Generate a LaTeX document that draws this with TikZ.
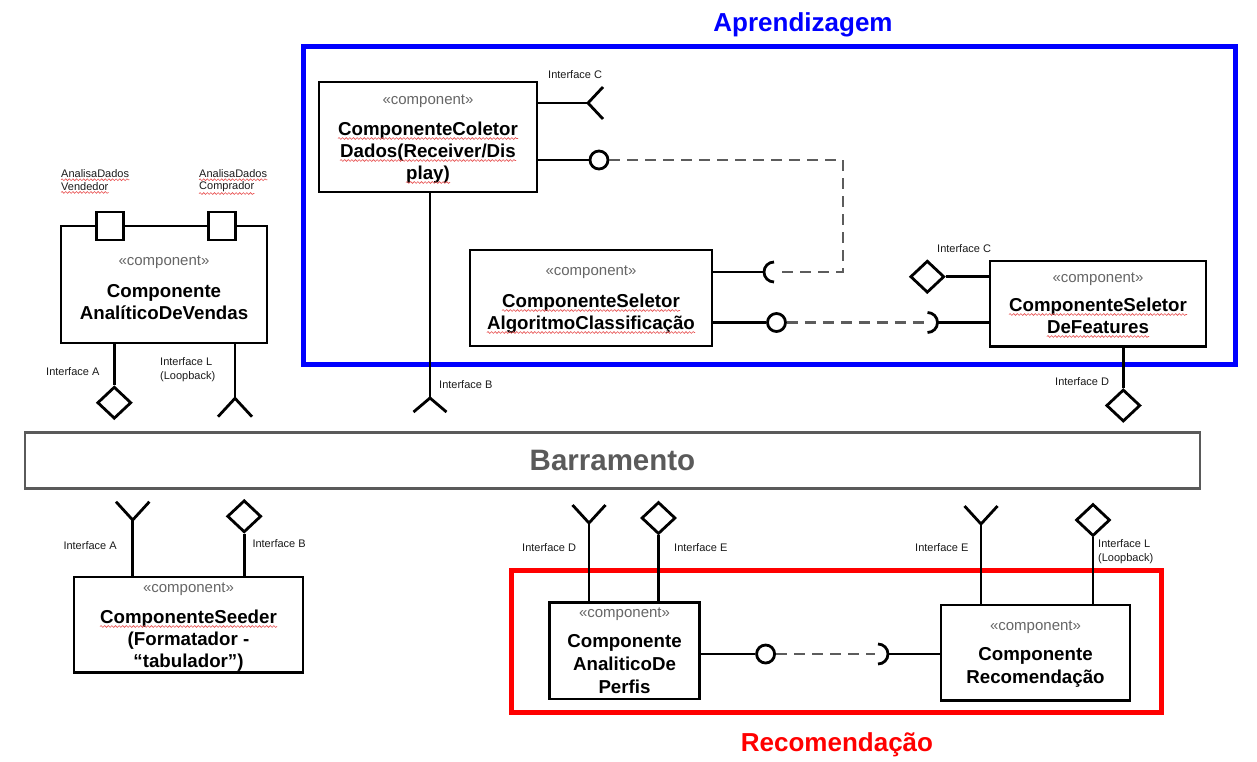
\documentclass[tikz,border=0pt]{standalone}
\usepackage{fontspec}
\setmainfont{Liberation Sans}
\usetikzlibrary{shapes.geometric,decorations.pathmorphing}
\definecolor{stgray}{HTML}{666666}
\definecolor{dashgray}{HTML}{5C5C5C}
\definecolor{busgray}{HTML}{5A5A5A}
\definecolor{lblblack}{HTML}{1A1A1A}
\definecolor{frameblue}{HTML}{0000FF}
\definecolor{framered}{HTML}{FF0000}
\definecolor{squigred}{HTML}{E85050}
\begin{document}
\begin{tikzpicture}[x=1pt,y=-1pt,
  comp/.style={draw=black, line width=2.8pt, fill=white, inner sep=0pt, rectangle},
  portbox/.style={draw=black, line width=2.8pt, fill=white, inner sep=0pt, rectangle, minimum width=27pt, minimum height=28pt},
  conn/.style={draw=black, line width=2.8pt},
  dashconn/.style={draw=dashgray, line width=2.8pt, dash pattern=on 11pt off 7pt},
  diam/.style={draw=black, line width=2.8pt, fill=white, diamond, inner sep=0pt, minimum width=34pt, minimum height=32pt},
  lolly/.style={draw=black, line width=2.8pt, fill=white, circle, inner sep=0pt, minimum size=18pt},
  stereo/.style={font=\fontsize{15}{18}\selectfont, text=stgray, inner sep=0pt},
  ctitle/.style={font=\bfseries\fontsize{18.7}{22}\selectfont, text=black, inner sep=0pt, anchor=base},
  lbl/.style={font=\fontsize{11}{13}\selectfont, text=lblblack, inner sep=0pt, anchor=west},
  squig/.style={draw=squigred, line width=0.6pt, decorate, decoration={snake, amplitude=0.9pt, segment length=3.6pt}},
  frame/.style={line width=5pt},
  bigtitle/.style={font=\bfseries\fontsize{26}{30}\selectfont, inner sep=0pt, anchor=base}
]
\useasboundingbox (0,0) rectangle (1257,761);

% ---------- frames ----------
\draw[frame, draw=frameblue] (303,46) rectangle (1235,364.5);
\draw[frame, draw=framered] (511,570) rectangle (1161,712);
\node[bigtitle, text=frameblue] (aprend) at (803,31.7) {Aprendizagem};
\node[bigtitle, text=framered] (recomT) at (837,751.7) {Recomendação};

% ---------- bus ----------
\node[draw=busgray, line width=2.8pt, fill=white, minimum width=1175pt, minimum height=56pt, inner sep=0pt,
      font=\bfseries\fontsize{29.5}{34}\selectfont, text=busgray] (bus) at (612.5,460.3) {Barramento};

% ---------- coordinates for interface ends ----------
\coordinate (fColC) at (588,103);
\coordinate (fColB) at (430,398);
\coordinate (fVenL) at (235,398.3);
\coordinate (fSeeA) at (132.7,520);
\coordinate (fPerD) at (589,523);
\coordinate (fRecE) at (981,524);
\coordinate (sockU) at (774,272);
\coordinate (sockR) at (927.5,322.5);
\coordinate (sockB) at (878,654);
\coordinate (dashCorner1) at (843,160);
\coordinate (dashCorner2) at (843,272);

% ---------- connectors (drawn first) ----------
% Coletor
\draw[conn] (fColC -| 537,0) -- (fColC);
\draw[conn] (fColC) -- ++(15,-16) (fColC) -- ++(15,16);
\draw[conn] (430,192) -- (fColB);
\draw[conn] (fColB) -- ++(-16.5,14) (fColB) -- ++(16.5,14);
% Vendas
\draw[conn] (fVenL |- 0,343) -- (fVenL);
\draw[conn] (fVenL) -- ++(-17,18.4) (fVenL) -- ++(17,18.4);
% Seeder
\draw[conn] (fSeeA |- 0,577) -- (fSeeA);
\draw[conn] (fSeeA) -- ++(-16.7,-18.3) (fSeeA) -- ++(16.7,-18.3);
% Perfis
\draw[conn] (fPerD |- 0,602.7) -- (fPerD);
\draw[conn] (fPerD) -- ++(-16.5,-18) (fPerD) -- ++(16.5,-18);
% Recomendacao
\draw[conn] (fRecE |- 0,605) -- (fRecE);
\draw[conn] (fRecE) -- ++(-16.5,-18) (fRecE) -- ++(16.5,-18);

% ---------- components ----------
\node[comp, minimum width=218pt, minimum height=110pt] (coletor) at (428,137) {};
\node[stereo] (coletorS) at (428,101) {«component»};
\node[ctitle] (coletorT1) at (428,135) {ComponenteColetor};
\node[ctitle] (coletorT2) at (428,157) {Dados(Receiver/Dis};
\node[ctitle] (coletorT3) at (428,179) {play)};

\node[comp, minimum width=242pt, minimum height=96pt] (algo) at (591,298) {};
\node[stereo] (algoS) at (591,272) {«component»};
\node[ctitle] (algoT1) at (591,307) {ComponenteSeletor};
\node[ctitle] (algoT2) at (591,329) {AlgoritmoClassificação};

\node[comp, minimum width=216pt, minimum height=85.5pt] (feat) at (1098,303.7) {};
\node[stereo] (featS) at (1098,279.3) {«component»};
\node[ctitle] (featT1) at (1098,311) {ComponenteSeletor};
\node[ctitle] (featT2) at (1098,333) {DeFeatures};

\node[comp, minimum width=206pt, minimum height=117pt] (vendas) at (164,284.5) {};
\node[portbox] (portV) at (110.3,226) {};
\node[portbox] (portC) at (221.7,226) {};
\node[stereo] (vendasS) at (164,262.7) {«component»};
\node[ctitle] (vendasT1) at (164,297) {Componente};
\node[ctitle] (vendasT2) at (164,319) {AnalíticoDeVendas};

\node[comp, minimum width=229pt, minimum height=95.7pt] (seeder) at (188.5,624.8) {};
\node[stereo] (seederS) at (188.5,589) {«component»};
\node[ctitle] (seederT1) at (188.5,623) {ComponenteSeeder};
\node[ctitle] (seederT2) at (188.5,645) {(Formatador -};
\node[ctitle] (seederT3) at (188.5,667) {“tabulador”)};

\node[comp, minimum width=150pt, minimum height=96.3pt] (perfis) at (624.5,650.8) {};
\node[stereo] (perfisS) at (624.5,614) {«component»};
\node[ctitle] (perfisT1) at (624.5,647) {Componente};
\node[ctitle] (perfisT2) at (624.5,670) {AnaliticoDe};
\node[ctitle] (perfisT3) at (624.5,693) {Perfis};

\node[comp, minimum width=189pt, minimum height=95.7pt] (recom) at (1035.5,652.8) {};
\node[stereo] (recomS) at (1035.5,627) {«component»};
\node[ctitle] (recomT1) at (1035.5,660) {Componente};
\node[ctitle] (recomT2) at (1035.5,683) {Recomendação};

% ---------- provided / required interfaces ----------
\node[diam] (dVenA) at (114.3,402.7) {};
\draw[conn] (vendas.south -| dVenA) -- (dVenA.north);

\node[diam] (dFeatC) at (927.3,276.7) {};
\draw[conn] (dFeatC.east) -- (dFeatC.east -| feat.west);
\node[diam] (dFeatD) at (1123.3,405.5) {};
\draw[conn] (feat.south -| dFeatD) -- (dFeatD.north);

\node[diam] (dSeeB) at (244.2,516.3) {};
\draw[conn] (dSeeB.south) -- (dSeeB.south |- seeder.north);

\node[diam] (dPerE) at (658.5,518) {};
\draw[conn] (dPerE.south) -- (dPerE.south |- perfis.north);

\node[diam] (dRecL) at (1093,520) {};
\draw[conn] (dRecL.south) -- (dRecL.south |- recom.north);

% lollipops and sockets
\node[lolly] (lColD) at (599,160) {};
\draw[conn] (lColD -| coletor.east) -- (lColD.west);

\node[lolly] (lAlgo) at (776.5,322.5) {};
\draw[conn] (lAlgo -| algo.east) -- (lAlgo.west);

\node[lolly] (lPer) at (765.6,654) {};
\draw[conn] (lPer -| perfis.east) -- (lPer.west);

\draw[conn] (sockU -| algo.east) -- ([shift={(-10,0)}]sockU);
\draw[conn] ([shift={(0,10)}]sockU) arc[start angle=90, end angle=270, radius=10];

\draw[conn] ([shift={(10,0)}]sockR) -- (sockR -| feat.west);
\draw[conn] ([shift={(0,-10)}]sockR) arc[start angle=-90, end angle=90, radius=10];

\draw[conn] ([shift={(10,0)}]sockB) -- (sockB -| recom.west);
\draw[conn] ([shift={(0,-10)}]sockB) arc[start angle=-90, end angle=90, radius=10];

% dashed assembly links
\draw[dashconn] (lColD.east) -- (dashCorner1) -- (dashCorner2) -- ([shift={(6,0)}]sockU);
\draw[dashconn] (lAlgo.east) -- ([shift={(-2,0)}]sockR);
\draw[dashconn] (lPer.east) -- ([shift={(-3,0)}]sockB);

% ---------- labels ----------
\node[lbl] (lbColC) at (548,75) {Interface C};
\node[lbl] (lbV1) at (61,174) {AnalisaDados};
\node[lbl] (lbV2) at (61,186.7) {Vendedor};
\node[lbl] (lbC1) at (199,174) {AnalisaDados};
\node[lbl] (lbC2) at (199,186.7) {Comprador};
\node[lbl] (lbVenA) at (46,372) {Interface A};
\node[lbl] (lbVenL1) at (160,362) {Interface L};
\node[lbl] (lbVenL2) at (160,376.7) {(Loopback)};
\node[lbl] (lbColB) at (439,385) {Interface B};
\node[lbl] (lbFeatC) at (937,248.3) {Interface C};
\node[lbl] (lbFeatD) at (1055,381.7) {Interface D};
\node[lbl] (lbSeeA) at (63.3,546) {Interface A};
\node[lbl] (lbSeeB) at (252.3,544) {Interface B};
\node[lbl] (lbPerD) at (522,547.7) {Interface D};
\node[lbl] (lbPerE) at (674,547.7) {Interface E};
\node[lbl] (lbRecE) at (915,547.7) {Interface E};
\node[lbl] (lbRecL1) at (1098,544) {Interface L};
\node[lbl] (lbRecL2) at (1098,559) {(Loopback)};

% ---------- spell-check squiggles ----------
\foreach \n in {coletorT1,coletorT2,coletorT3,algoT1,algoT2,featT1,featT2,seederT1}
  \draw[squig] ([yshift=-3.5pt]\n.base west) -- ([yshift=-3.5pt]\n.base east);
\foreach \n in {lbV1,lbV2,lbC1,lbC2}
  \draw[squig] ([yshift=-1.5pt]\n.south west) -- ([yshift=-1.5pt]\n.south east);
\end{tikzpicture}
\end{document}
